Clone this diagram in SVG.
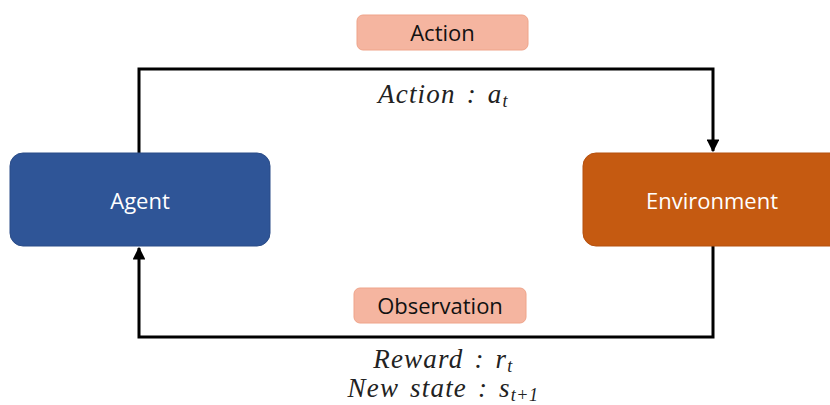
<svg xmlns="http://www.w3.org/2000/svg" width="830" height="405" viewBox="0 0 830 405">
<defs>
<style>
.lbl{font-family:"Open Sans","Liberation Sans",sans-serif;font-size:22px;text-anchor:middle;}
.math{font-family:"Liberation Serif","DejaVu Serif",serif;font-style:italic;font-size:27px;letter-spacing:1.2px;word-spacing:3px;text-anchor:middle;fill:#222;}
.sub{font-size:18px;letter-spacing:0.5px;}
.conn{fill:none;stroke:#000;stroke-width:3;}
.tag{fill:#F5B5A0;stroke:#EFA48A;stroke-width:1;}
</style>
<marker id="arr" viewBox="0 0 10 10" refX="9" refY="5" markerWidth="4.3" markerHeight="4.3" orient="auto-start-reverse" markerUnits="strokeWidth">
<path d="M0,0 L10,5 L0,10 z" fill="#000"/>
</marker>
</defs>
<rect width="830" height="405" fill="#fff"/>
<g id="connectors">
<path class="conn" d="M139,153 V69 H713 V151" marker-end="url(#arr)"/>
<path class="conn" d="M713,246 V337 H139 V248" marker-end="url(#arr)"/>
</g>
<g id="agent">
<rect x="10" y="153" width="260" height="93" rx="13" fill="#2F5597" stroke="#2A4C88" stroke-width="1"/>
<text class="lbl" x="140" y="209" fill="#fff">Agent</text>
</g>
<g id="environment">
<rect x="583" y="153" width="262" height="93" rx="13" fill="#C55A11" stroke="#B5500E" stroke-width="1"/>
<text class="lbl" x="712" y="209" fill="#fff">Environment</text>
</g>
<g id="action-tag">
<rect class="tag" x="357" y="15" width="171" height="35" rx="6"/>
<text class="lbl" x="442.5" y="41" fill="#111">Action</text>
</g>
<g id="observation-tag">
<rect class="tag" x="354" y="288" width="172" height="35" rx="6"/>
<text class="lbl" x="440" y="314" fill="#111">Observation</text>
</g>
<g id="math-labels">
<text class="math" x="443" y="103">Action : a<tspan class="sub" dy="4">t</tspan></text>
<text class="math" x="443" y="368">Reward : r<tspan class="sub" dy="4">t</tspan></text>
<text class="math" x="443" y="397">New state : s<tspan class="sub" dy="4">t+1</tspan></text>
</g>
</svg>
